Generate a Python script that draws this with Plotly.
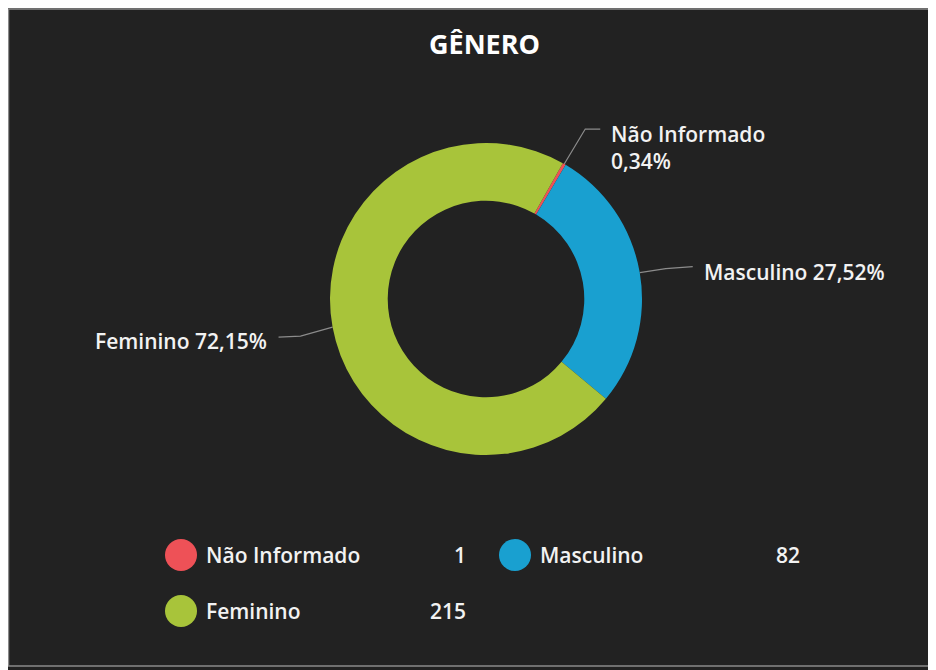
import math

import plotly.graph_objects as go

# data
labels = ["Não Informado", "Masculino", "Feminino"]
counts = [1, 82, 215]
colors = ["#EE5157", "#19A0D0", "#A8C43A"]

# page is drawn with the browser's 8px body margin, which gives the white frame
OFF = 8
W, H = 936 - OFF, 670 - OFF
BG = "#222222"
FONT = "Open Sans"
TXT = "#F2F2F2"

# donut geometry (page pixels)
CX, CY, R = 486, 299, 156
ROTATION = 29.5

# leader-line / label offsets from slice edge (elbow, end, text anchor)
label_style = [
    dict(elbow=(21, -35), end=(36, -35), text=(45, -17), anchor="left"),
    dict(elbow=(26, -4), end=(53, -6), text=(62, -1), anchor="left"),
    dict(elbow=(-32, 9), end=(-54, 10), text=(-64, 14), anchor="right"),
]

total = sum(counts)
pcts = [c / total * 100 for c in counts]

fig = go.Figure()

fig.add_trace(
    go.Pie(
        labels=labels,
        values=counts,
        marker=dict(colors=colors, line=dict(width=0)),
        hole=0.63,
        sort=False,
        direction="clockwise",
        rotation=ROTATION,
        textinfo="none",
        hoverinfo="skip",
        showlegend=False,
        domain=dict(
            x=[(CX - R - OFF) / W, (CX + R - OFF) / W],
            y=[1 - (CY + R - OFF) / H, 1 - (CY - R - OFF) / H],
        ),
    )
)

annotations = []
cum = 0
for name, c, p, st in zip(labels, counts, pcts, label_style):
    mid = math.radians(ROTATION + 360 * (cum + c / 2) / total)
    cum += c
    ex = CX + R * math.sin(mid)
    ey = CY - R * math.cos(mid)
    fig.add_trace(
        go.Scatter(
            x=[ex, ex + st["elbow"][0], ex + st["end"][0]],
            y=[ey, ey + st["elbow"][1], ey + st["end"][1]],
            mode="lines",
            line=dict(color="#8C8C8C", width=1.2),
            hoverinfo="skip",
            showlegend=False,
        )
    )
    pct_txt = f"{p:.2f}".replace(".", ",") + "%"
    sep = "<br>" if p < 1 else " "
    annotations.append(
        dict(
            x=ex + st["text"][0],
            y=ey + st["text"][1],
            xref="x",
            yref="y",
            text=f"{name}{sep}{pct_txt}",
            showarrow=False,
            xanchor=st["anchor"],
            yanchor="middle",
            align="left",
            font=dict(family=FONT, size=21, color=TXT, weight=600),
        )
    )

# custom legend: two columns
COL_W, ROW_H = 334, 56
LEG_X, LEG_Y = 181, 555
leg_x = [LEG_X + (i % 2) * COL_W for i in range(len(labels))]
leg_y = [LEG_Y + (i // 2) * ROW_H for i in range(len(labels))]

fig.add_trace(
    go.Scatter(
        x=leg_x,
        y=leg_y,
        mode="markers",
        marker=dict(size=32, color=colors, line=dict(width=0)),
        hoverinfo="skip",
        showlegend=False,
    )
)
for name, c, x, y in zip(labels, counts, leg_x, leg_y):
    annotations.append(
        dict(x=x + 23, y=y, xref="x", yref="y", text=name, showarrow=False,
             xanchor="left", yanchor="middle",
             font=dict(family=FONT, size=21, color=TXT, weight=600))
    )
    annotations.append(
        dict(x=x + 287, y=y, xref="x", yref="y", text=str(c), showarrow=False,
             xanchor="right", yanchor="middle",
             font=dict(family=FONT, size=21, color=TXT, weight=600))
    )

annotations.append(
    dict(x=484, y=43, xref="x", yref="y", text="<b>GÊNERO</b>", showarrow=False,
         xanchor="center", yanchor="middle",
         font=dict(family=FONT, size=27, color="#FFFFFF"))
)

fig.update_layout(
    width=W,
    height=H,
    margin=dict(l=0, r=0, t=0, b=0),
    paper_bgcolor=BG,
    plot_bgcolor="rgba(0,0,0,0)",
    xaxis=dict(range=[OFF, OFF + W], visible=False, fixedrange=True),
    yaxis=dict(range=[OFF + H, OFF], visible=False, fixedrange=True),
    shapes=[
        dict(type="rect", xref="x", yref="y", x0=OFF + 0.5, x1=OFF + W + 2,
             y0=OFF + 1, y1=666, line=dict(color="#8A8A8A", width=1.5),
             layer="below")
    ],
    annotations=annotations,
)

fig.write_html("out.html")
